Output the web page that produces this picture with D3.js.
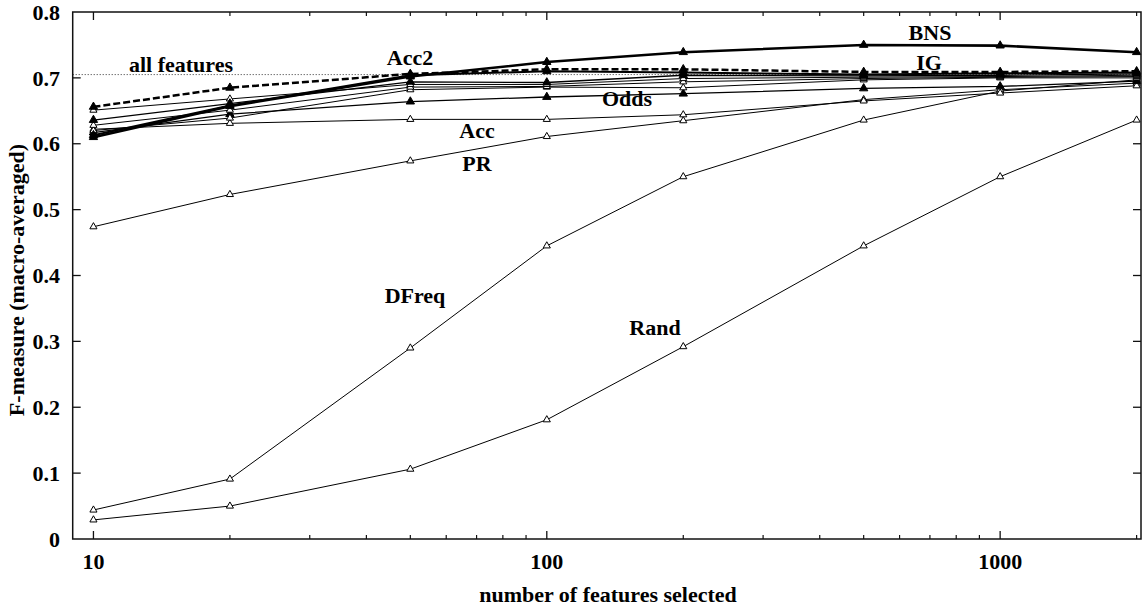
<!DOCTYPE html>
<html>
<head>
<meta charset="utf-8">
<script src="https://cdn.jsdelivr.net/npm/d3@7"></script>
<style>
  html, body { margin: 0; padding: 0; background: #fff; }
  svg { display: block; }
  text { font-family: "Liberation Serif", "Times New Roman", serif; font-weight: bold; fill: #000; }
</style>
</head>
<body>
<svg id="chart" width="1142" height="608"></svg>
<script>
// ---------- data ----------
const featureCounts = [10, 20, 50, 100, 200, 500, 1000, 2000];

const bns   = [0.610, 0.657, 0.702, 0.724, 0.739, 0.750, 0.749, 0.739];
const ig    = [0.656, 0.685, 0.706, 0.713, 0.713, 0.709, 0.709, 0.710];
const acc2  = [0.613, 0.658, 0.704, 0.710, 0.708, 0.705, 0.707, 0.708];
const chi   = [0.636, 0.661, 0.694, 0.693, 0.704, 0.703, 0.704, 0.706];
const f1    = [0.651, 0.668, 0.690, 0.690, 0.699, 0.701, 0.702, 0.704];
const oddN  = [0.628, 0.651, 0.686, 0.687, 0.694, 0.699, 0.701, 0.702];
const pow   = [0.620, 0.639, 0.682, 0.686, 0.685, 0.697, 0.700, 0.700];
const odds  = [0.617, 0.645, 0.664, 0.671, 0.676, 0.684, 0.687, 0.695];
const acc   = [0.622, 0.631, 0.637, 0.637, 0.644, 0.665, 0.677, 0.688];
const pr    = [0.474, 0.523, 0.574, 0.611, 0.635, 0.667, 0.682, 0.692];
const dfreq = [0.044, 0.091, 0.290, 0.445, 0.550, 0.636, 0.680, 0.697];
const rand  = [0.029, 0.050, 0.106, 0.181, 0.292, 0.445, 0.550, 0.636];

const allFeatures = 0.705;

const yTickValues = [0, 0.1, 0.2, 0.3, 0.4, 0.5, 0.6, 0.7, 0.8];
const yTickLabels = ["0", "0.1", "0.2", "0.3", "0.4", "0.5", "0.6", "0.7", "0.8"];
const xMajorTicks = [10, 100, 1000];
const xTickLabels = ["10", "100", "1000"];
const xTitle = "number of features selected";
const yTitle = "F-measure (macro-averaged)";

// ---------- layout ----------
const svg = d3.select("#chart");
const L = 72.7, R = 1141, T = 12, B = 539;

const x = d3.scaleLog().domain([9, 2045]).range([L, R]);
const y = d3.scaleLinear().domain([0, 0.8]).range([B, T]);

// series styling (drawing order: thin first, thick last)
const seriesList = [
  { name: "Rand",  values: rand,  width: 1,   dash: null,  filled: false },
  { name: "DFreq", values: dfreq, width: 1,   dash: null,  filled: false },
  { name: "PR",    values: pr,    width: 1,   dash: null,  filled: false },
  { name: "Acc",   values: acc,   width: 1,   dash: null,  filled: false },
  { name: "Odds",  values: odds,  width: 1.3, dash: null,  filled: true },
  { name: "Pow",   values: pow,   width: 1,   dash: null,  filled: false },
  { name: "OddN",  values: oddN,  width: 1,   dash: null,  filled: false },
  { name: "F1",    values: f1,    width: 1,   dash: null,  filled: false },
  { name: "Chi",   values: chi,   width: 1.3, dash: null,  filled: true },
  { name: "Acc2",  values: acc2,  width: 2,   dash: null,  filled: true },
  { name: "IG",    values: ig,    width: 2.5, dash: "7,3", filled: true },
  { name: "BNS",   values: bns,   width: 2.6, dash: null,  filled: true }
];

// all-features reference line (dotted)
svg.append("line")
  .attr("x1", L).attr("x2", R)
  .attr("y1", y(allFeatures)).attr("y2", y(allFeatures))
  .attr("stroke", "#333").attr("stroke-width", 1)
  .attr("stroke-dasharray", "1,2");

const line = d3.line()
  .x((d, i) => x(featureCounts[i]))
  .y(d => y(d));

const g = svg.append("g");
seriesList.forEach(s => {
  g.append("path")
    .attr("d", line(s.values))
    .attr("fill", "none")
    .attr("stroke", "#000")
    .attr("stroke-width", s.width)
    .attr("stroke-dasharray", s.dash)
    .attr("stroke-linejoin", "round");
});
seriesList.forEach(s => {
  const sym = d3.symbol().type(d3.symbolTriangle).size(s.filled ? 30 : 22);
  g.selectAll(null)
    .data(s.values)
    .enter().append("path")
    .attr("d", sym)
    .attr("transform", (d, i) => `translate(${x(featureCounts[i])},${y(d)})`)
    .attr("fill", s.filled ? "#000" : "#fff")
    .attr("stroke", "#000")
    .attr("stroke-width", 1);
});

// frame
svg.append("rect")
  .attr("x", L).attr("y", T)
  .attr("width", R - L).attr("height", B - T)
  .attr("fill", "none").attr("stroke", "#111").attr("stroke-width", 1.5);

// y ticks (left and right)
yTickValues.forEach((v, i) => {
  if (v > 0 && v < 0.8) {
    svg.append("line").attr("x1", L).attr("x2", L + 8)
      .attr("y1", y(v)).attr("y2", y(v)).attr("stroke", "#111").attr("stroke-width", 1.3);
    svg.append("line").attr("x1", R - 8).attr("x2", R)
      .attr("y1", y(v)).attr("y2", y(v)).attr("stroke", "#111").attr("stroke-width", 1.3);
  }
  svg.append("text")
    .attr("x", 60).attr("y", y(v))
    .attr("dy", "0.35em")
    .attr("text-anchor", "end")
    .attr("font-size", 22)
    .text(yTickLabels[i]);
});

// x ticks (bottom and top), major + minor
const minorTicks = [];
[10, 100, 1000].forEach(dec => {
  for (let k = 2; k <= 9; k++) {
    const v = dec * k;
    if (v <= 2045) minorTicks.push(v);
  }
});
xMajorTicks.forEach((v, i) => {
  svg.append("line").attr("x1", x(v)).attr("x2", x(v))
    .attr("y1", B).attr("y2", B - 8).attr("stroke", "#111").attr("stroke-width", 1.3);
  svg.append("line").attr("x1", x(v)).attr("x2", x(v))
    .attr("y1", T).attr("y2", T + 8).attr("stroke", "#111").attr("stroke-width", 1.3);
  svg.append("text")
    .attr("x", x(v)).attr("y", 569)
    .attr("text-anchor", "middle")
    .attr("font-size", 22)
    .text(xTickLabels[i]);
});
minorTicks.forEach(v => {
  svg.append("line").attr("x1", x(v)).attr("x2", x(v))
    .attr("y1", B).attr("y2", B - 4).attr("stroke", "#111").attr("stroke-width", 1.2);
  svg.append("line").attr("x1", x(v)).attr("x2", x(v))
    .attr("y1", T).attr("y2", T + 4).attr("stroke", "#111").attr("stroke-width", 1.2);
});

// axis titles
svg.append("text")
  .attr("x", 608).attr("y", 602)
  .attr("text-anchor", "middle")
  .attr("font-size", 22)
  .text(xTitle);
svg.append("text")
  .attr("transform", "translate(24,280) rotate(-90)")
  .attr("text-anchor", "middle")
  .attr("font-size", 22)
  .text(yTitle);

// in-plot labels (annotation layout)
const annotations = [
  { text: "all features", px: 181, py: 72 },
  { text: "Acc2",  px: 410, py: 65 },
  { text: "BNS",   px: 930, py: 40 },
  { text: "IG",    px: 929, py: 70 },
  { text: "Odds",  px: 627, py: 106 },
  { text: "Acc",   px: 477, py: 138 },
  { text: "PR",    px: 477, py: 171 },
  { text: "DFreq", px: 415, py: 303 },
  { text: "Rand",  px: 655, py: 335 }
];
annotations.forEach(a => {
  svg.append("text")
    .attr("x", a.px).attr("y", a.py)
    .attr("text-anchor", "middle")
    .attr("font-size", 22)
    .text(a.text);
});
</script>
</body>
</html>
